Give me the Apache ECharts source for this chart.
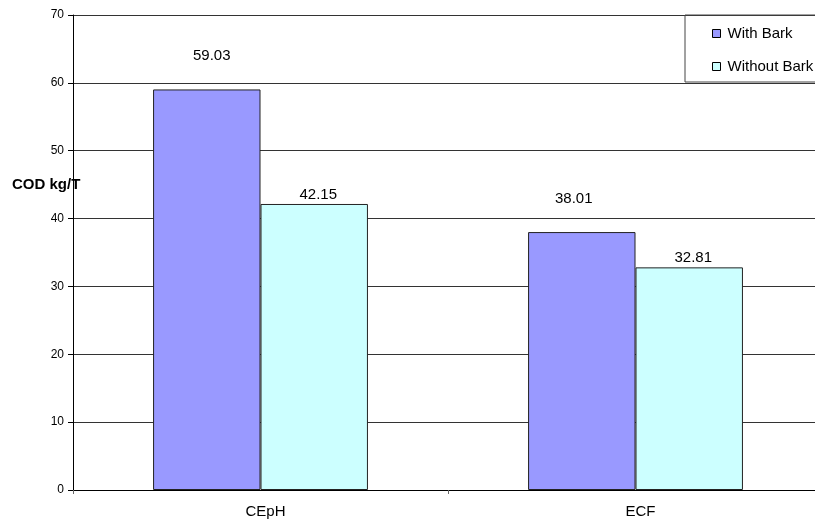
<!DOCTYPE html>
<html><head><meta charset="utf-8">
<script src="https://cdn.jsdelivr.net/npm/echarts@6/dist/echarts.min.js"></script>
<style>html,body{margin:0;padding:0;background:#fff;overflow:hidden}#c{width:840px;height:523px}</style>
</head><body><div id="c"></div>
<script>
const categories = ['CEpH', 'ECF'];
const withBark = [59.03, 38.01];
const withoutBark = [42.15, 32.81];
const yTicks = [0, 10, 20, 30, 40, 50, 60, 70];

const font = 'Liberation Sans, Arial, sans-serif';
// per-bar label nudges (horizontal px), as placed in the original
const withBarkLabelShift = [5, -8];

const chart = echarts.init(document.getElementById('c'));
chart.setOption({
  animation: false,
  backgroundColor: '#fff',
  title: {
    text: 'COD kg/T', left: 7, top: 172,
    textStyle: {fontFamily: font, fontSize: 15, fontWeight: 'bold', color: '#000'}
  },
  legend: {
    orient: 'vertical', left: 685, top: 15,
    itemWidth: 8, itemHeight: 8, itemGap: 18,
    padding: [11, 20, 8, 27],
    borderColor: '#444', borderWidth: 1,
    textStyle: {fontFamily: font, fontSize: 15, color: '#000', padding: [0, 0, 0, 2]},
    data: [
      {name: 'With Bark', icon: 'rect', itemStyle: {borderColor: '#000', borderWidth: 1}},
      {name: 'Without Bark', icon: 'rect', itemStyle: {borderColor: '#000', borderWidth: 1}}
    ]
  },
  grid: {left: 73, width: 750, top: 15, height: 475, containLabel: false},
  xAxis: {
    type: 'category', data: categories,
    axisLine: {lineStyle: {color: '#000', width: 1}},
    axisTick: {show: true, length: 4, lineStyle: {color: '#666'}},
    axisLabel: {fontFamily: font, fontSize: 15, color: '#000', margin: 14, padding: [0, 0, 0, 10]}
  },
  yAxis: {
    type: 'value', min: yTicks[0], max: yTicks[yTicks.length - 1], interval: 10,
    axisLine: {show: true, lineStyle: {color: '#000'}},
    axisTick: {show: true, length: 5, lineStyle: {color: '#000'}},
    axisLabel: {fontFamily: font, fontSize: 12, color: '#000', margin: 9},
    splitLine: {lineStyle: {color: '#333', width: 1}}
  },
  series: [
    {
      name: 'With Bark', type: 'bar',
      data: withBark.map((v, i) => ({value: v, label: {offset: [withBarkLabelShift[i], 0]}})),
      barGap: '0%', barCategoryGap: '42.7%',
      itemStyle: {color: '#9999FF', borderColor: '#222', borderWidth: 1},
      label: {show: true, position: 'top', distance: 26, fontFamily: font, fontSize: 15, color: '#000'}
    },
    {
      name: 'Without Bark', type: 'bar', data: withoutBark,
      itemStyle: {color: '#CCFFFF', borderColor: '#222', borderWidth: 1},
      label: {show: true, position: 'top', distance: 2, fontFamily: font, fontSize: 15, color: '#000', offset: [4, 0]}
    }
  ]
});
</script></body></html>
